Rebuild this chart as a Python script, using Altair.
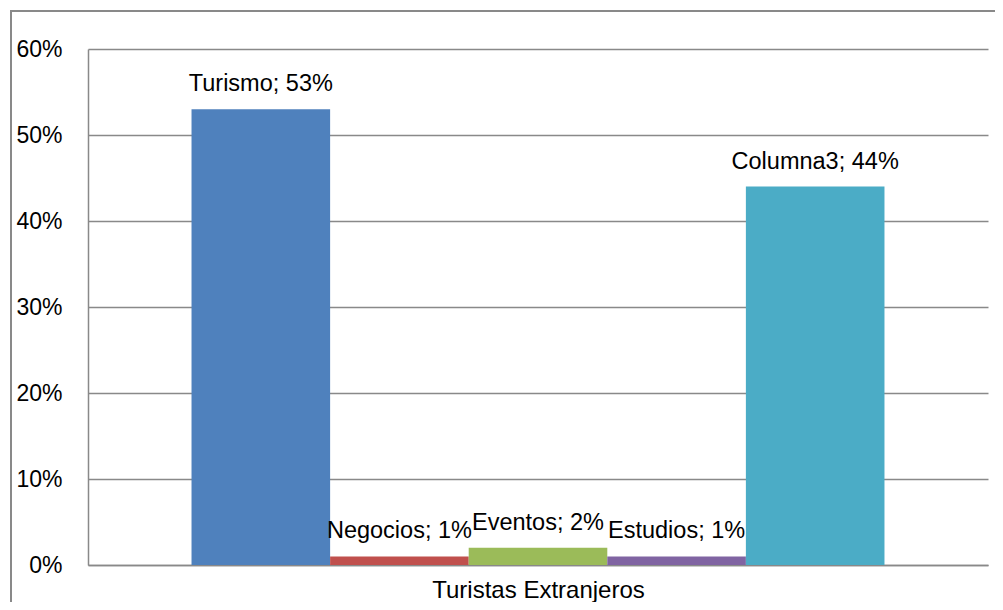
import altair as alt
import pandas as pd

series = ["Turismo", "Negocios", "Eventos", "Estudios", "Columna3"]
values = [0.53, 0.01, 0.02, 0.01, 0.44]
colors = ["#4F81BD", "#C0504D", "#9BBB59", "#8064A2", "#4BACC6"]
y_ticks = [0, 0.1, 0.2, 0.3, 0.4, 0.5, 0.6]
category = "Turistas Extranjeros"

df = pd.DataFrame({
    "serie": series,
    "valor": values,
    "etiqueta": [f"{s}; {round(v * 100)}%" for s, v in zip(series, values)],
})

FONT = "Liberation Sans"
GRAY = "#898989"

x_enc = alt.X(
    "serie:N",
    sort=series,
    scale=alt.Scale(paddingInner=0, paddingOuter=0.747),
    axis=alt.Axis(
        title=category, labels=False, ticks=False, domain=True,
        domainColor=GRAY, domainWidth=1.5,
        titleFont=FONT, titleFontSize=24, titleFontWeight="normal",
        titleColor="black", titlePadding=13,
    ),
)
y_enc = alt.Y(
    "valor:Q",
    scale=alt.Scale(domain=[0, 0.6], nice=False),
    axis=alt.Axis(
        title=None, values=y_ticks, format=".0%", ticks=False,
        labelPadding=26, labelFont=FONT, labelFontSize=23, labelColor="black",
        domain=True, domainColor=GRAY, domainWidth=1.5,
        grid=True, gridColor=GRAY, gridWidth=1.5,
    ),
)

bars = alt.Chart(df).mark_bar(size=138.6).encode(
    x=x_enc,
    y=y_enc,
    color=alt.Color("serie:N", sort=series,
                    scale=alt.Scale(domain=series, range=colors), legend=None),
)

labels = alt.Chart(df).mark_text(
    font=FONT, fontSize=23.5, color="black", align="center",
    baseline="alphabetic", dy=-18,
).encode(
    x=alt.X("serie:N", sort=series),
    y=alt.Y("valor:Q"),
    text="etiqueta:N",
)

border = alt.Chart(pd.DataFrame({"a": [0]})).mark_rect(
    fillOpacity=0, stroke=GRAY, strokeWidth=2, clip=False,
).encode(
    x=alt.value(-77), x2=alt.value(930),
    y=alt.value(-38), y2=alt.value(600),
)

chart = alt.layer(border, bars, labels).properties(
    width=900, height=516,
    autosize=alt.AutoSizeParams(type="none"),
    padding={"left": 80, "top": 41, "right": 7, "bottom": 37},
    background="white",
).configure_view(strokeWidth=0)

chart.save("out.html", embed_options={"renderer": "svg", "actions": False})
